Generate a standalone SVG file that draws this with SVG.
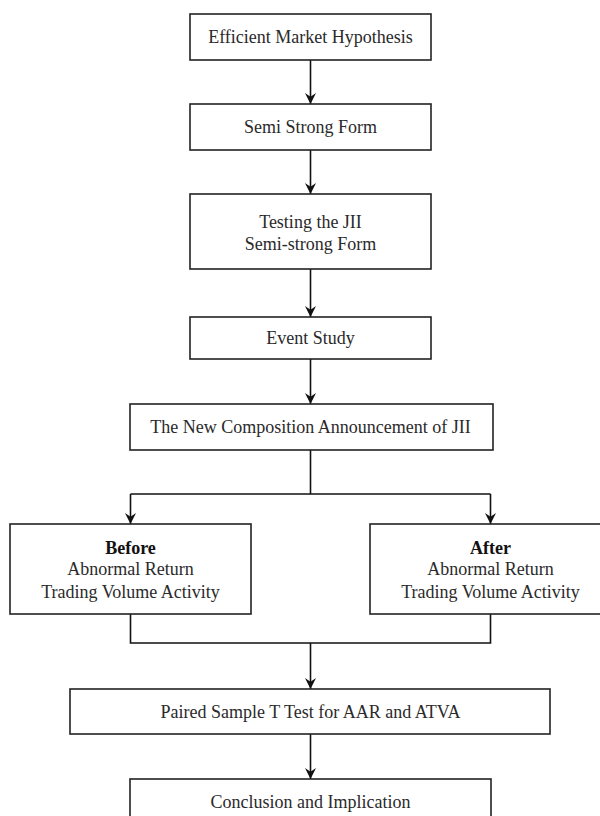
<svg xmlns="http://www.w3.org/2000/svg" width="600" height="816" viewBox="0 0 600 816">
<defs>
<marker id="ah" markerWidth="11" markerHeight="11" refX="10" refY="5" orient="auto" markerUnits="userSpaceOnUse" viewBox="0 0 10 10">
<path d="M0,0 L10,5 L0,10 L3.5,5 Z" fill="#111"/>
</marker>
<style>
.box{fill:#fff;stroke:#222;stroke-width:1.6}
.t{font-family:"Liberation Serif","Times New Roman",serif;font-size:18px;fill:#2a2a2a;text-anchor:middle}
.b{font-weight:bold;fill:#111}
.c{fill:none;stroke:#111;stroke-width:1.6}
</style>
</defs>
<rect width="600" height="816" fill="#fff"/>
<g id="connectors">
<line class="c" x1="310.5" y1="60" x2="310.5" y2="104" marker-end="url(#ah)"/>
<line class="c" x1="310.5" y1="150" x2="310.5" y2="194" marker-end="url(#ah)"/>
<line class="c" x1="310.5" y1="269" x2="310.5" y2="317" marker-end="url(#ah)"/>
<line class="c" x1="310.5" y1="359" x2="310.5" y2="404" marker-end="url(#ah)"/>
<line class="c" x1="310.5" y1="450" x2="310.5" y2="494"/>
<polyline class="c" points="130.5,494 490.5,494"/>
<line class="c" x1="130.5" y1="494" x2="130.5" y2="524" marker-end="url(#ah)"/>
<line class="c" x1="490.5" y1="494" x2="490.5" y2="524" marker-end="url(#ah)"/>
<polyline class="c" points="130.5,614 130.5,643 490.5,643 490.5,614"/>
<line class="c" x1="310.5" y1="643" x2="310.5" y2="689" marker-end="url(#ah)"/>
<line class="c" x1="310.5" y1="734" x2="310.5" y2="779" marker-end="url(#ah)"/>
</g>
<g id="n1"><rect class="box" x="190" y="14" width="241" height="46"/><text class="t" x="310.5" y="43">Efficient Market Hypothesis</text></g>
<g id="n2"><rect class="box" x="190" y="104" width="241" height="46"/><text class="t" x="310.5" y="133">Semi Strong Form</text></g>
<g id="n3"><rect class="box" x="190" y="194" width="241" height="75"/><text class="t" x="310.5" y="228">Testing the JII</text><text class="t" x="310.5" y="249.5">Semi-strong Form</text></g>
<g id="n4"><rect class="box" x="190" y="317" width="241" height="42"/><text class="t" x="310.5" y="343.5">Event Study</text></g>
<g id="n5"><rect class="box" x="130" y="404" width="363" height="46"/><text class="t" x="310.5" y="433">The New Composition Announcement of JII</text></g>
<g id="n6"><rect class="box" x="10" y="524" width="241" height="90"/><text class="t b" x="130.5" y="554">Before</text><text class="t" x="130.5" y="575">Abnormal Return</text><text class="t" x="130.5" y="597.5">Trading Volume Activity</text></g>
<g id="n7"><rect class="box" x="370" y="524" width="241" height="90"/><text class="t b" x="490.5" y="554">After</text><text class="t" x="490.5" y="575">Abnormal Return</text><text class="t" x="490.5" y="597.5">Trading Volume Activity</text></g>
<g id="n8"><rect class="box" x="70" y="689" width="480" height="45"/><text class="t" x="310.5" y="717.5">Paired Sample T Test for AAR and ATVA</text></g>
<g id="n9"><rect class="box" x="130" y="779" width="361" height="50"/><text class="t" x="310.5" y="807.5">Conclusion and Implication</text></g>
</svg>
